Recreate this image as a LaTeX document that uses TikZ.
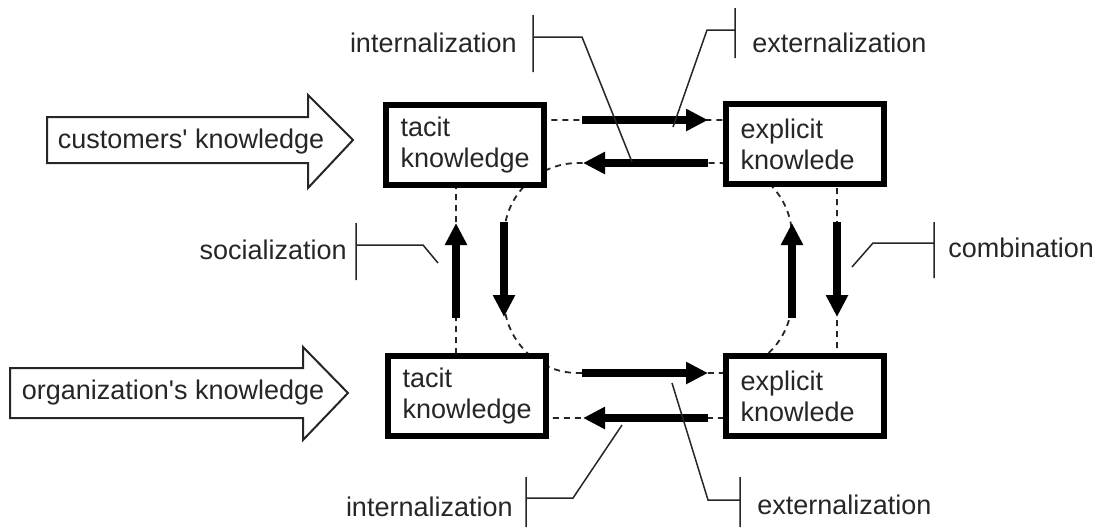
\documentclass[tikz,border=0pt]{standalone}
\usepackage{fontspec}
\setmainfont{Liberation Sans}
\usetikzlibrary{arrows.meta}

\begin{document}
\begin{tikzpicture}[x=0.5pt, y=-0.5pt,
    kbox/.style={draw, line width=2.9pt, fill=white, minimum width=79.1pt, minimum height=40.1pt,
        text width=64.5pt, inner xsep=7.3pt, align=left, font=\fontsize{13.5}{15.5}\selectfont, text=black!85},
    flow/.style={line width=3.6pt, -{Triangle[length=11pt, width=10.5pt]}},
    cycleline/.style={dash pattern=on 3pt off 2.5pt, line width=0.9pt, black!85},
    tag/.style={font=\fontsize{13.5}{15.5}\selectfont, text=black!85, inner sep=0pt},
    lead/.style={line width=0.75pt, black!85},
    bigarrow/.style={draw=black!85, line width=1pt, fill=white}]

    \useasboundingbox (0,0) rectangle (1102,527);

    % dashed cycles behind the boxes
    \draw[cycleline, rounded corners=37pt] (504,163) rectangle (792,373);
    \draw[cycleline, rounded corners=15pt] (456,120) rectangle (837,418);

    % knowledge boxes
    \node[kbox] (tacitA) at (465,145) {tacit\\knowledge};
    \node[kbox] (explA) at (805,144) {explicit\\knowlede};
    \node[kbox] (tacitB) at (467,396) {tacit\\knowledge};
    \node[kbox] (explB) at (805,396) {explicit\\knowlede};

    % ends of the thick arrows
    \foreach \n/\x/\y in {a1/582/120, a2/708/120, b1/708/163, b2/583/163,
                          c1/582/373, c2/708/373, d1/708/418, d2/583/418,
                          e1/456/318, e2/456/223, f1/504/222, f2/504/317,
                          g1/792/318, g2/792/223, h1/837/222, h2/837/317}
        \coordinate (\n) at (\x,\y);
    \foreach \s/\t in {a1/a2, b1/b2, c1/c2, d1/d2, e1/e2, f1/f2, g1/g2, h1/h2}
        \draw[flow] (\s) -- (\t);

    % labels with their leader lines
    \draw[lead] (533,15) -- (533,72) (533,37) -- (582,37) -- (632,162);
    \node[tag, anchor=east] (intTop) at (517,43) {internalization};
    \draw[lead] (735,8) -- (735,58) (735,30) -- (707,30) -- (673,127);
    \node[tag, anchor=west] (extTop) at (752,43) {externalization};
    \draw[lead] (356,223) -- (356,280) (356,245) -- (423,245) -- (438,263);
    \node[tag, anchor=east] (soc) at (347,250) {socialization};
    \draw[lead] (934,222) -- (934,278) (934,243) -- (873,243) -- (852,267);
    \node[tag, anchor=west] (comb) at (948,248) {combination};
    \draw[lead] (526,477) -- (526,527) (526,498) -- (573,498) -- (622,425);
    \node[tag, anchor=east] (intBot) at (513,507) {internalization};
    \draw[lead] (740,477) -- (740,527) (740,500) -- (708,500) -- (672,383);
    \node[tag, anchor=west] (extBot) at (757,505) {externalization};

    % incoming knowledge
    \draw[bigarrow] (47,117) -- (308,117) -- (308,95) -- (353,140) -- (308,188) -- (308,163) -- (47,163) -- cycle;
    \node[tag] (custK) at (191,142) {customers\textquotesingle{} knowledge};
    \draw[bigarrow] (10,368) -- (303,368) -- (303,347) -- (348,393) -- (303,440) -- (303,418) -- (10,418) -- cycle;
    \node[tag] (orgK) at (173,393) {organization\textquotesingle{}s knowledge};
\end{tikzpicture}
\end{document}
